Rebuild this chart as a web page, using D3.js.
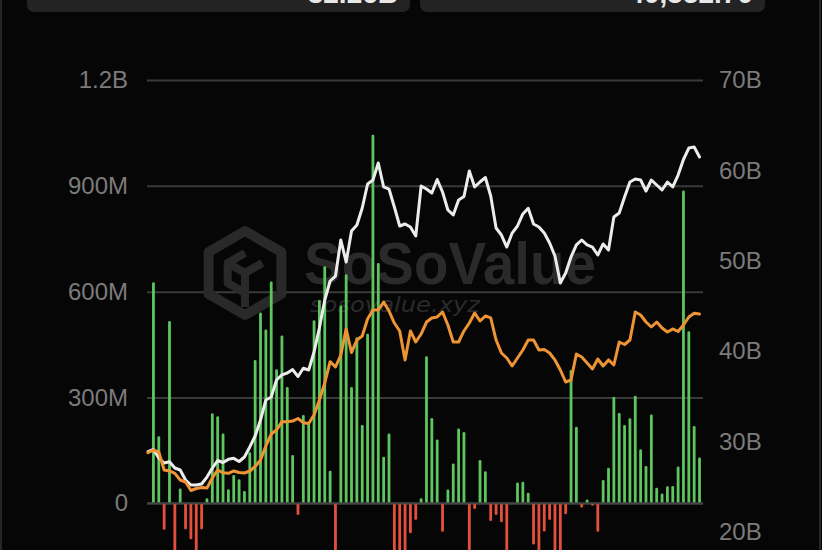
<!DOCTYPE html>
<html><head><meta charset="utf-8">
<script src="https://cdn.jsdelivr.net/npm/d3@7/dist/d3.min.js"></script>
<style>html,body{margin:0;padding:0;background:#060606;overflow:hidden}</style>
</head><body><svg id="c" width="822" height="550"></svg>
<script>
// ---------- DATA ----------
const dates = ["2024-01-10",
"2024-01-11","2024-01-12","2024-01-16","2024-01-17","2024-01-18","2024-01-19","2024-01-22","2024-01-23","2024-01-24","2024-01-25","2024-01-26","2024-01-29","2024-01-30","2024-01-31",
"2024-02-01","2024-02-02","2024-02-05","2024-02-06","2024-02-07","2024-02-08","2024-02-09","2024-02-12","2024-02-13","2024-02-14","2024-02-15","2024-02-16","2024-02-20","2024-02-21","2024-02-22","2024-02-23","2024-02-26","2024-02-27","2024-02-28","2024-02-29",
"2024-03-01","2024-03-04","2024-03-05","2024-03-06","2024-03-07","2024-03-08","2024-03-11","2024-03-12","2024-03-13","2024-03-14","2024-03-15","2024-03-18","2024-03-19","2024-03-20","2024-03-21","2024-03-22","2024-03-25","2024-03-26","2024-03-27","2024-03-28",
"2024-04-01","2024-04-02","2024-04-03","2024-04-04","2024-04-05","2024-04-08","2024-04-09","2024-04-10","2024-04-11","2024-04-12","2024-04-15","2024-04-16","2024-04-17","2024-04-18","2024-04-19","2024-04-22","2024-04-23","2024-04-24","2024-04-25","2024-04-26","2024-04-29","2024-04-30",
"2024-05-01","2024-05-02","2024-05-03","2024-05-06","2024-05-07","2024-05-08","2024-05-09","2024-05-10","2024-05-13","2024-05-14","2024-05-15","2024-05-16","2024-05-17","2024-05-20","2024-05-21","2024-05-22","2024-05-23","2024-05-24","2024-05-28","2024-05-29","2024-05-30","2024-05-31",
"2024-06-03","2024-06-04","2024-06-05","2024-06-06","2024-06-07"];

// daily net inflow (millions USD), one per date from 2024-01-11
const netInflowM = [627,190,-75,517,-160,42,-74,-102,-160,-74,
14,255,247,198,40,80,68,35,145,406,
541,493,629,380,476,330,137,-33,250,227,
519,576,672,92,-150,561,649,330,471,222,
481,1045,681,132,198,-154,-326,-261,-85,-47,
14,417,242,181,-81,39,113,212,202,-150,
-16,123,91,-50,-33,-54,-165,-3,59,61,
30,-117,-218,-80,-47,-162,-564,-31,378,217,
-12,11,-7,-81,66,101,302,256,222,241,
305,153,106,252,44,28,48,49,104,887,
488,219,130];

// white line (billions USD), one per date
const totalNetAssetsB = [28.86,29.10,28.16,27.60,27.75,27.05,26.83,25.72,25.17,25.17,
25.28,26.05,27.05,27.88,27.66,28.01,28.12,27.77,28.27,29.38,
30.59,32.36,34.58,34.91,36.79,37.35,37.57,37.95,37.18,38.09,
37.90,39.89,42.55,45.65,47.75,48.30,52.29,49.85,53.29,53.95,
55.83,58.49,58.93,60.81,58.16,57.93,55.94,53.84,54.06,53.73,
52.73,58.27,57.93,57.49,58.99,57.60,55.61,55.06,56.72,57.10,
59.93,58.16,58.71,59.21,57.16,53.62,52.84,51.51,53.06,53.84,
55.17,55.80,54.06,53.73,53.06,51.96,50.52,47.53,48.64,50.41,
51.74,52.29,51.74,51.51,50.63,51.85,51.18,54.84,55.28,57.05,
58.71,59.04,58.93,57.71,58.93,58.38,57.82,58.71,58.16,59.48,
61.20,62.47,62.58,61.48];

// orange line (billions USD), one per date
const orangeSeriesB = [28.74,29.04,28.82,26.83,26.72,26.46,25.72,25.50,24.56,24.78,
24.89,24.84,25.94,26.83,26.52,26.46,26.72,26.55,26.50,26.72,
27.22,27.94,29.49,30.81,31.26,32.18,32.18,32.25,32.53,32.07,
31.98,32.92,34.58,36.46,38.82,38.23,39.56,42.44,39.84,41.22,
41.66,43.54,44.54,44.54,45.43,44.43,43.10,42.22,39.01,42.22,
41.00,41.88,43.21,43.66,43.77,44.32,42.88,41.00,41.00,42.22,
43.10,44.21,43.32,43.88,43.66,41.22,39.78,39.23,38.34,39.23,
40.11,41.22,41.22,40.11,40.17,39.78,39.01,37.90,36.57,36.79,
39.67,39.34,38.67,38.01,39.12,38.34,39.01,38.45,41.00,40.72,
41.22,44.32,43.99,43.21,42.66,43.21,42.55,42.11,42.44,42.16,
42.88,43.77,44.18,44.10];

const leftTicks = [0, 300e6, 600e6, 900e6, 1.2e9];
const leftTickLabels = ["0", "300M", "600M", "900M", "1.2B"];
const rightTicks = [20e9, 30e9, 40e9, 50e9, 60e9, 70e9];
const rightTickLabels = ["20B", "30B", "40B", "50B", "60B", "70B"];
const headerValues = ["32.26B", "40,552.70"];

// ---------- CHART ----------
const svg = d3.select("#c");
const BG = "#060606";
svg.append("rect").attr("width", 822).attr("height", 550).attr("fill", BG);

// header cards (cut off at top, as in the source)
const cards = [{x: 27, w: 383, tx: 398}, {x: 420, w: 345, tx: 753}];
cards.forEach((c, i) => {
  svg.append("rect").attr("x", c.x).attr("y", -20).attr("width", c.w).attr("height", 32)
    .attr("rx", 7).attr("fill", "#232323");
  svg.append("text").attr("x", c.tx).attr("y", 2.5).attr("text-anchor", "end")
    .attr("font-family", "Liberation Sans, Arial, sans-serif").attr("font-weight", "bold")
    .attr("font-size", 28).attr("fill", "#e8e8e8").text(headerValues[i]);
});
// page side borders
svg.append("line").attr("x1", 1).attr("x2", 1).attr("y1", 0).attr("y2", 550).attr("stroke", "#262626").attr("stroke-width", 2);
svg.append("line").attr("x1", 820).attr("x2", 820).attr("y1", 0).attr("y2", 550).attr("stroke", "#262626").attr("stroke-width", 2);

const x = d3.scaleBand().domain(dates).range([145.4, 702.2]).padding(0);
const xc = d => x(d) + x.bandwidth() / 2;
const yL = d3.scaleLinear().domain([0, 1.2e9]).range([503.3, 80]);
const yR = d3.scaleLinear().domain([20e9, 70e9]).range([531.7, 80]);

const FONT = "Liberation Sans, Arial, sans-serif";

// left axis with gridlines
const gL = svg.append("g").attr("transform", "translate(147,0)")
  .call(d3.axisLeft(yL).tickValues(leftTicks).tickSize(-556).tickPadding(19)
    .tickFormat((d, i) => leftTickLabels[i]));
gL.select(".domain").remove();
gL.selectAll(".tick line").attr("stroke", "#3a3a3a").attr("stroke-width", 2);
gL.selectAll(".tick text").attr("fill", "#7b7b7b").attr("font-family", FONT).attr("font-size", 24);

// right axis
const gR = svg.append("g").attr("transform", "translate(703,0)")
  .call(d3.axisRight(yR).tickValues(rightTicks).tickSize(0).tickPadding(16)
    .tickFormat((d, i) => rightTickLabels[i]));
gR.select(".domain").remove();
gR.selectAll(".tick text").attr("fill", "#7b7b7b").attr("font-family", FONT).attr("font-size", 24);

// watermark
const wm = svg.append("g");
const cx = 245, cy = 273, r = 42;
const hex = d3.range(6).map(k => {
  const a = (-90 + 60 * k) * Math.PI / 180;
  return [cx + r * Math.cos(a), cy + r * Math.sin(a)];
});
wm.append("path").attr("d", "M" + hex.join("L") + "Z").attr("fill", "none")
  .attr("stroke", "#292929").attr("stroke-width", 10).attr("stroke-linejoin", "round");
const ri = 20;
const hexIn = d3.range(6).map(k => {
  const a = (-90 + 60 * k) * Math.PI / 180;
  return [cx + ri * Math.cos(a), cy + ri * Math.sin(a)];
});
wm.append("path").attr("d", `M${hexIn[5]}L${[cx, cy]}L${hexIn[1]}M${[cx, cy]}L${[cx, cy + 34]}M${hexIn[3]}L${hexIn[4]}L${hexIn[5]}L${hexIn[0]}`)
  .attr("fill", "none").attr("stroke", "#292929").attr("stroke-width", 8).attr("stroke-linejoin", "round");
wm.append("text").attr("x", 304).attr("y", 284).attr("font-family", "Liberation Sans, Arial, sans-serif")
  .attr("font-weight", "bold").attr("font-size", 60).attr("fill", "#2a2a2a")
  .attr("textLength", 292).attr("lengthAdjust", "spacingAndGlyphs").text("SoSoValue");
wm.append("text").attr("x", 310).attr("y", 312).attr("font-family", "DejaVu Sans, sans-serif")
  .attr("font-style", "italic").attr("font-size", 22).attr("fill", "#2a2a2a")
  .attr("textLength", 170).attr("lengthAdjust", "spacingAndGlyphs").text("sosovalue.xyz");

// bars
const barData = netInflowM.map((v, i) => ({date: dates[i + 1], v: v * 1e6}));
const bw = 2.8;
svg.append("g").selectAll("rect").data(barData).join("rect")
  .attr("x", d => xc(d.date) - bw / 2)
  .attr("width", bw)
  .attr("y", d => d.v >= 0 ? yL(d.v) : yL(0))
  .attr("height", d => Math.abs(yL(d.v) - yL(0)))
  .attr("rx", 1.3)
  .attr("fill", d => d.v >= 0 ? "#5ec55f" : "#e5503d");

// zero baseline
svg.append("line").attr("x1", 147).attr("x2", 703).attr("y1", yL(0)).attr("y2", yL(0))
  .attr("stroke", "#444").attr("stroke-width", 2);

// lines
const line = d3.line().x((d, i) => xc(dates[i])).y(d => yR(d * 1e9));
svg.append("path").datum(totalNetAssetsB).attr("d", line).attr("fill", "none")
  .attr("stroke", "#ececec").attr("stroke-width", 3).attr("stroke-linejoin", "round").attr("stroke-linecap", "round");
svg.append("path").datum(orangeSeriesB).attr("d", line).attr("fill", "none")
  .attr("stroke", "#ef9435").attr("stroke-width", 3).attr("stroke-linejoin", "round").attr("stroke-linecap", "round");
</script>
</body></html>
